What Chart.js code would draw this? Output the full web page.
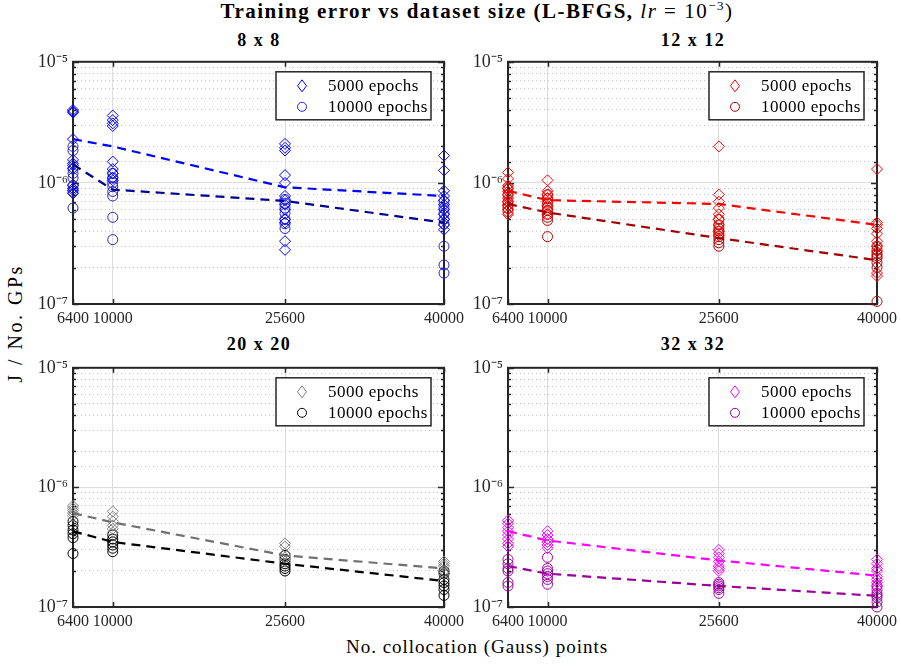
<!DOCTYPE html>
<html>
<head>
<meta charset="utf-8">
<script src="https://cdn.jsdelivr.net/npm/chart.js@4/dist/chart.umd.min.js"></script>
<style>
  body { margin: 0; background: #fff; }
  #page { position: relative; width: 901px; height: 669px; font-family: "Liberation Serif", serif; color: #000; }
  .txt { position: absolute; white-space: nowrap; }
  .sub { position: absolute; white-space: nowrap; text-align: center; font-size: 18px; font-weight: bold; letter-spacing: 1.5px; }
  .panel { position: absolute; }
</style>
</head>
<body>
<div id="page">
  <div class="txt" id="title" style="left:0;width:954px;top:-2px;text-align:center;font-size:21px;font-weight:bold;letter-spacing:1.5px;">
    Training error vs dataset size (L-BFGS, <span style="font-weight:normal;font-style:italic">lr</span> <span style="font-weight:normal">= 10<sup style="font-size:13px">−3</sup>)</span>
  </div>
  <div class="sub" style="left:73px;width:372px;top:30px;">8 x 8</div>
  <div class="sub" style="left:508px;width:370px;top:30px;">12 x 12</div>
  <div class="sub" style="left:73px;width:372px;top:334px;">20 x 20</div>
  <div class="sub" style="left:508px;width:370px;top:334px;">32 x 32</div>
  <div class="txt" style="left:0;width:954px;top:636px;text-align:center;font-size:19px;letter-spacing:1px;">No. collocation (Gauss) points</div>
  <div class="txt" style="left:-55px;width:140px;top:312px;text-align:center;font-size:20px;letter-spacing:2.5px;transform:rotate(-90deg);">J / No. GPs</div>

  <div class="panel" id="w8"><canvas id="c8"></canvas></div>
  <div class="panel" id="w12"><canvas id="c12"></canvas></div>
  <div class="panel" id="w20"><canvas id="c20"></canvas></div>
  <div class="panel" id="w32"><canvas id="c32"></canvas></div>
</div>
<script>
// values are in units of 1e-6
const xTicks = [6400, 10000, 25600, 40000];
const yTicks = [1e-7, 1e-6, 1e-5];

// 8 x 8
const g8_5000 = [
  [4.0, 3.9, 3.8, 2.3, 1.55, 1.45, 1.4, 1.32, 0.96, 0.9, 0.87, 0.82],
  [3.6, 3.3, 3.1, 2.95, 1.5, 1.3, 1.2, 1.1, 1.05],
  [2.1, 1.95, 1.85, 1.16, 1.0, 0.78, 0.72, 0.66, 0.6, 0.5, 0.47, 0.33, 0.28],
  [1.68, 1.27, 0.86, 0.78, 0.72, 0.66, 0.6, 0.55, 0.5, 0.45, 0.41]
];
const g8_10000 = [
  [2.0, 1.85, 1.3, 1.2, 1.1, 0.95, 0.85, 0.62],
  [1.2, 1.1, 1.0, 0.93, 0.85, 0.78, 0.52, 0.34],
  [0.73, 0.68, 0.62, 0.56, 0.5, 0.46, 0.42],
  [0.7, 0.62, 0.56, 0.5, 0.46, 0.3, 0.21, 0.18]
];
const g8_mean5000 = [2.3, 2.0, 0.92, 0.78];
const g8_mean10000 = [1.42, 0.88, 0.71, 0.47];

// 12 x 12
const g12_5000 = [
  [1.22, 1.08, 0.95, 0.9, 0.85, 0.8, 0.75, 0.7, 0.65, 0.6, 0.55],
  [1.05, 0.86, 0.8, 0.75, 0.7, 0.65, 0.6, 0.55],
  [2.0, 0.8, 0.7, 0.62, 0.55, 0.5, 0.45, 0.4, 0.37],
  [1.3, 0.47, 0.45, 0.42, 0.38, 0.33, 0.3, 0.27, 0.18, 0.17]
];
const g12_10000 = [
  [0.9, 0.8, 0.7, 0.66, 0.62, 0.58],
  [0.8, 0.74, 0.68, 0.63, 0.59, 0.55, 0.52, 0.49, 0.36],
  [0.5, 0.45, 0.42, 0.4, 0.38, 0.36, 0.34, 0.32, 0.3],
  [0.3, 0.28, 0.26, 0.25, 0.24, 0.22, 0.2, 0.105]
];
const g12_mean5000 = [0.86, 0.72, 0.67, 0.45];
const g12_mean10000 = [0.67, 0.57, 0.35, 0.23];

// 20 x 20
const g20_5000 = [
  [0.7, 0.67, 0.64, 0.61, 0.58],
  [0.63, 0.57, 0.52, 0.48, 0.45, 0.42],
  [0.34, 0.32, 0.28, 0.26, 0.24],
  [0.24, 0.23, 0.22, 0.2, 0.19]
];
const g20_10000 = [
  [0.52, 0.48, 0.44, 0.41, 0.38, 0.28],
  [0.4, 0.37, 0.35, 0.33, 0.31, 0.29],
  [0.27, 0.25, 0.23, 0.22, 0.21, 0.2],
  [0.2, 0.19, 0.17, 0.16, 0.15, 0.14, 0.125]
];
const g20_mean5000 = [0.61, 0.51, 0.27, 0.21];
const g20_mean10000 = [0.43, 0.35, 0.23, 0.165];

// 32 x 32
const g32_5000 = [
  [0.53, 0.5, 0.46, 0.43, 0.4, 0.37, 0.34, 0.32],
  [0.43, 0.4, 0.37, 0.35, 0.33, 0.31],
  [0.3, 0.28, 0.26, 0.24, 0.22, 0.21, 0.2],
  [0.25, 0.23, 0.21, 0.2, 0.18, 0.17, 0.16, 0.15]
];
const g32_10000 = [
  [0.25, 0.23, 0.21, 0.2, 0.16, 0.15],
  [0.26, 0.21, 0.2, 0.19, 0.18, 0.17, 0.155],
  [0.16, 0.155, 0.15, 0.145, 0.14, 0.13],
  [0.15, 0.14, 0.13, 0.125, 0.12, 0.11, 0.1]
];
const g32_mean5000 = [0.43, 0.36, 0.245, 0.183];
const g32_mean10000 = [0.22, 0.19, 0.15, 0.124];

const seriesLabels = ["5000 epochs", "10000 epochs"];

const SUP = { "-": "\u207B", "0": "\u2070", "1": "\u00B9", "2": "\u00B2", "3": "\u00B3", "4": "\u2074", "5": "\u2075", "6": "\u2076", "7": "\u2077", "8": "\u2078", "9": "\u2079" };

function isPow10(v) {
  const e = Math.log10(v);
  return Math.abs(e - Math.round(e)) < 1e-6;
}

function toPoints(groups) {
  const pts = [];
  groups.forEach((vals, i) => vals.forEach((v) => pts.push({ x: xTicks[i], y: v * 1e-6 })));
  return pts;
}

function toLine(means) {
  return means.map((v, i) => ({ x: xTicks[i], y: v * 1e-6 }));
}

// box around the axes with inward ticks (under the markers), legend on top
const boxPlugin = {
  id: "box",
  beforeDatasetsDraw(chart) {
    const ctx = chart.ctx;
    const a = chart.chartArea;
    const ys = chart.scales.y;
    const xs = chart.scales.x;
    ctx.save();
    ctx.strokeStyle = "#262626";
    ctx.lineWidth = 1.5;
    ctx.beginPath();
    ys.ticks.forEach((t) => {
      const y = Math.round(ys.getPixelForValue(t.value)) + 0.5;
      const len = isPow10(t.value) ? 6 : 3;
      ctx.moveTo(a.left, y); ctx.lineTo(a.left + len, y);
      ctx.moveTo(a.right, y); ctx.lineTo(a.right - len, y);
    });
    xs.ticks.forEach((t) => {
      const x = Math.round(xs.getPixelForValue(t.value)) + 0.5;
      ctx.moveTo(x, a.bottom); ctx.lineTo(x, a.bottom - 5);
      ctx.moveTo(x, a.top); ctx.lineTo(x, a.top + 5);
    });
    ctx.stroke();
    ctx.lineWidth = 2;
    ctx.strokeRect(a.left, a.top, a.right - a.left, a.bottom - a.top);
    ctx.restore();
  },
  afterDraw(chart) {
    const ctx = chart.ctx;
    const a = chart.chartArea;
    const lx = a.right - 168, ly = a.top + 10, lw = 155, lh = 48;
    ctx.save();
    ctx.fillStyle = "#fff";
    ctx.fillRect(lx, ly, lw, lh);
    ctx.lineWidth = 1.5;
    ctx.strokeStyle = "#262626";
    ctx.strokeRect(lx, ly, lw, lh);
    ctx.font = "17px 'Liberation Serif'";
    ctx.letterSpacing = "0.5px";
    ctx.textBaseline = "middle";
    [0, 1].forEach((k) => {
      const ds = chart.data.datasets[k];
      const cy = ly + 14 + k * 21, cx = lx + 26;
      ctx.strokeStyle = ds.borderColor;
      ctx.lineWidth = 1;
      ctx.beginPath();
      if (k === 0) {
        ctx.moveTo(cx, cy - 6); ctx.lineTo(cx + 4.5, cy); ctx.lineTo(cx, cy + 6); ctx.lineTo(cx - 4.5, cy); ctx.closePath();
      } else {
        ctx.arc(cx, cy, 4.5, 0, Math.PI * 2);
      }
      ctx.stroke();
      ctx.fillStyle = "#000";
      ctx.fillText(ds.label, lx + 52, cy + 1);
    });
    ctx.restore();
  }
};

function renderPanel(id, wrapId, area, g5000, g10000, m5000, m10000, colors) {
  const padL = 73, padT = 10, padR = 24, padB = 28;
  const wrap = document.getElementById(wrapId);
  wrap.style.left = (area.left - padL) + "px";
  wrap.style.top = (area.top - padT) + "px";
  wrap.style.width = (area.right - area.left + padL + padR) + "px";
  wrap.style.height = (area.bottom - area.top + padT + padB) + "px";

  new Chart(document.getElementById(id), {
    type: "scatter",
    data: {
      datasets: [
        {
          label: seriesLabels[0],
          data: toPoints(g5000),
          pointStyle: "rectRot",
          pointRadius: 5.5,
          pointBorderWidth: 1,
          borderColor: colors.d,
          backgroundColor: "rgba(0,0,0,0)",
          clip: false,
          order: 2,
        },
        {
          label: seriesLabels[1],
          data: toPoints(g10000),
          pointStyle: "circle",
          pointRadius: 5,
          pointBorderWidth: 1,
          borderColor: colors.c,
          backgroundColor: "rgba(0,0,0,0)",
          clip: false,
          order: 2,
        },
        {
          label: "mean 5000",
          data: toLine(m5000),
          showLine: true,
          pointRadius: 0,
          borderColor: colors.l1,
          borderWidth: 2.2,
          borderDash: [9, 6],
          order: 1,
        },
        {
          label: "mean 10000",
          data: toLine(m10000),
          showLine: true,
          pointRadius: 0,
          borderColor: colors.l2,
          borderWidth: 2.2,
          borderDash: [9, 6],
          order: 0,
        },
      ],
    },
    options: {
      responsive: true,
      maintainAspectRatio: false,
      animation: false,
      layout: { padding: { left: 0, top: padT, right: padR, bottom: 0 } },
      plugins: { legend: { display: false }, tooltip: { enabled: false } },
      scales: {
        x: {
          type: "linear",
          min: 6400,
          max: 40000,
          afterBuildTicks: (scale) => { scale.ticks = xTicks.map((v) => ({ value: v })); },
          afterFit: (scale) => { scale.height = padB; },
          ticks: {
            autoSkip: false,
            maxRotation: 0,
            padding: 5,
            color: "#262626",
            font: { family: "Liberation Serif", size: 16 },
            callback: (v) => String(v),
          },
          grid: { color: "#dcdcdc", lineWidth: 1, drawTicks: false },
          border: { display: false },
        },
        y: {
          type: "logarithmic",
          min: 1e-7,
          max: 1e-5,
          afterFit: (scale) => { scale.width = padL; },
          ticks: {
            autoSkip: false,
            padding: 5,
            color: "#262626",
            font: { family: "Liberation Serif", size: 18 },
            callback: (v) => {
              if (!isPow10(v)) return "";
              const e = String(Math.round(Math.log10(v)));
              return "10" + e.split("").map((ch) => SUP[ch]).join("");
            },
          },
          grid: {
            drawTicks: false,
            color: (c) => (c.tick && isPow10(c.tick.value) ? "#dcdcdc" : "#c4c4c4"),
            lineWidth: 1,
          },
          border: {
            display: false,
            dash: (c) => (c.tick && isPow10(c.tick.value) ? [] : [1, 3]),
          },
        },
      },
    },
    plugins: [boxPlugin],
  });
}

renderPanel("c8", "w8", { left: 73, right: 445, top: 56, bottom: 304 }, g8_5000, g8_10000, g8_mean5000, g8_mean10000,
  { d: "#0000ff", c: "#2424c8", l1: "#0000ff", l2: "#00008c" });
renderPanel("c12", "w12", { left: 508, right: 878, top: 56, bottom: 304 }, g12_5000, g12_10000, g12_mean5000, g12_mean10000,
  { d: "#ff0000", c: "#b40000", l1: "#ff0000", l2: "#a00000" });
renderPanel("c20", "w20", { left: 73, right: 445, top: 362, bottom: 607 }, g20_5000, g20_10000, g20_mean5000, g20_mean10000,
  { d: "#808080", c: "#000000", l1: "#707070", l2: "#000000" });
renderPanel("c32", "w32", { left: 508, right: 878, top: 362, bottom: 607 }, g32_5000, g32_10000, g32_mean5000, g32_mean10000,
  { d: "#ff00ff", c: "#a000a0", l1: "#ff00ff", l2: "#990099" });
</script>
</body>
</html>
